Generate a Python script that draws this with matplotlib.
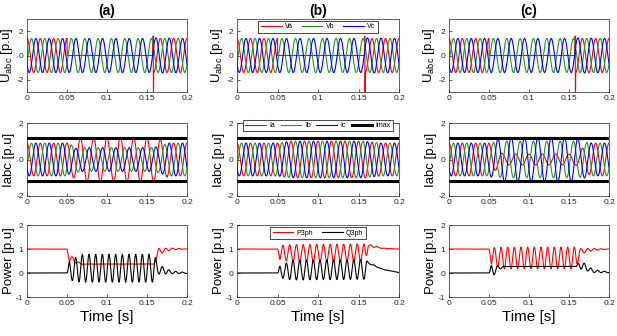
import numpy as np
import matplotlib.pyplot as plt

plt.rcParams['font.family'] = ['Liberation Sans', 'DejaVu Sans']
plt.rcParams['axes.unicode_minus'] = False
plt.rcParams['mathtext.fontset'] = 'custom'
plt.rcParams['mathtext.rm'] = 'Liberation Sans'

# time base, grid frequency read from the cycle count (about 12 cycles in 0.2 s)
t = np.arange(0, 0.2, 2e-5)
f0 = 60.0

# ---- voltages (same in the three cases) ----
v_env_t = [0.0, 0.05, 0.0501, 0.158, 0.1581, 0.2]
va_amp = [1.4, 1.4, 0.0, 0.0, 1.4, 1.4]
vb_amp = [1.4, 1.4, 1.4, 1.4, 1.4, 1.4]
vc_amp = [1.4, 1.4, 1.4, 1.4, 1.45, 1.4]
spike_t = [0.1574, 0.1577, 0.1580, 0.1583]
spike_v = [0.0, 1.6, -3.6, 0.0]

# ---- currents: envelope break points and peak values per case ----
i_env_t = [0.0, 0.05, 0.058, 0.068, 0.158, 0.166, 0.178, 0.2]
ia_amp = {
    "a": [0.9, 0.9, 1.0, 1.22, 1.22, 1.1, 0.9, 0.9],
    "b": [0.9, 0.9, 0.95, 1.0, 1.0, 0.95, 0.9, 0.9],
    "c": [0.9, 0.9, 0.6, 0.3, 0.3, 0.6, 0.9, 0.9],
}
ib_amp = {
    "a": [0.9, 0.9, 0.75, 0.65, 0.65, 0.75, 0.9, 0.9],
    "b": [0.9, 0.9, 0.95, 1.0, 1.0, 0.95, 0.9, 0.9],
    "c": [0.9, 0.9, 0.95, 1.0, 1.0, 0.95, 0.9, 0.9],
}
ic_amp = {
    "a": [0.9, 0.9, 0.6, 0.65, 0.65, 0.75, 0.9, 0.9],
    "b": [0.9, 0.9, 0.95, 1.0, 1.0, 0.95, 0.9, 0.9],
    "c": [0.9, 0.9, 1.05, 1.22, 1.22, 1.05, 0.9, 0.9],
}
i_max = 1.2

# ---- powers: mean level and 2f ripple amplitude at break points ----
p_env_t = {
    "a": [0.0, 0.05, 0.053, 0.068, 0.159, 0.164, 0.18, 0.2],
    "b": [0.0, 0.05, 0.053, 0.068, 0.159, 0.162, 0.18, 0.2],
    "c": [0.0, 0.05, 0.053, 0.068, 0.159, 0.164, 0.18, 0.2],
}
p_mid = {
    "a": [1.0, 1.0, 0.62, 0.37, 0.37, 0.9, 1.0, 1.0],
    "b": [1.0, 1.0, 0.85, 0.82, 0.85, 1.15, 1.03, 1.0],
    "c": [1.0, 1.0, 0.7, 0.63, 0.63, 0.9, 0.98, 1.0],
}
p_amp = {
    "a": [0.0, 0.0, 0.15, 0.0, 0.0, 0.12, 0.04, 0.0],
    "b": [0.0, 0.0, 0.3, 0.36, 0.36, 0.05, 0.01, 0.0],
    "c": [0.0, 0.0, 0.35, 0.45, 0.45, 0.12, 0.04, 0.0],
}
q_mid = {
    "a": [0.0, 0.0, 0.1, 0.2, 0.2, 0.15, 0.03, 0.0],
    "b": [0.0, 0.0, 0.05, 0.12, 0.15, 0.42, 0.15, 0.02],
    "c": [0.0, 0.0, 0.08, 0.27, 0.27, 0.35, 0.08, 0.03],
}
q_amp = {
    "a": [0.0, 0.0, 0.4, 0.58, 0.58, 0.2, 0.06, 0.02],
    "b": [0.0, 0.0, 0.25, 0.41, 0.41, 0.03, 0.0, 0.0],
    "c": [0.0, 0.0, 0.26, 0.0, 0.0, 0.18, 0.06, 0.02],
}

cases = ["a", "b", "c"]
RED, GREEN, BLUE = "#ff0000", "#1f9a1f", "#0000ff"


def wave(env_t, amp, freq, phase, mid=None):
    w = np.interp(t, env_t, amp) * np.cos(2 * np.pi * freq * t + phase)
    if mid is not None:
        w = w + np.interp(t, env_t, mid)
    return w


def style(ax, ylim, yticks, width_px):
    ax.set_xlim(0, 0.2)
    ax.set_ylim(*ylim)
    ax.set_yticks(yticks)
    ax.set_xticks([0, 0.05, 0.1, 0.15, 0.2])
    ax.set_xticklabels(["0", "0.05", "0.1", "0.15", "0.2"])
    ax.tick_params(direction="in", labelsize=6, length=2, width=0.5,
                   colors="#262626", pad=2.5)
    for s in ax.spines.values():
        s.set_linewidth(0.5)
        s.set_color("#262626")
    ax.yaxis.set_label_coords(-12 / width_px, 0.5)


def add_legend(ax, ncol, pad, colsp):
    leg = ax.legend(loc="upper center", ncol=ncol, fontsize=5, frameon=True,
                    fancybox=False, edgecolor="black", framealpha=1,
                    borderaxespad=pad, handlelength=3.0, columnspacing=colsp,
                    borderpad=0.35, handletextpad=0.5)
    leg.get_frame().set_linewidth(0.5)


fig = plt.figure(figsize=(6.17, 3.36), dpi=100)
lefts_px = [27, 237, 449]
widths_px = [160, 162, 160]
bottoms = [1 - 92 / 336, 1 - 196 / 336, 1 - 297 / 336]
heights = [73 / 336, 73 / 336, 72 / 336]
lw = 0.8
sh = 2 * np.pi / 3

for j, c in enumerate(cases):
    L, W = lefts_px[j] / 617, widths_px[j] / 617

    # voltages
    ax = fig.add_axes([L, bottoms[0], W, heights[0]])
    va = wave(v_env_t, va_amp, f0, 0.0) + np.interp(t, spike_t, spike_v, left=0, right=0)
    ax.plot(t, va, color=RED, lw=lw, label="Va")
    ax.plot(t, wave(v_env_t, vb_amp, f0, -sh), color=GREEN, lw=lw, label="Vb")
    ax.plot(t, wave(v_env_t, vc_amp, f0, sh), color=BLUE, lw=lw, label="Vc")
    style(ax, (-3, 3), [-2, 0, 2], widths_px[j])
    ax.set_ylabel("U$_{\\mathrm{abc}}$ [p.u]", fontsize=9.5)
    ax.set_title("(" + c + ")", fontsize=10, fontweight="bold", pad=3)
    if c == "b":
        add_legend(ax, 3, 0.25, 1.2)

    # currents
    ax = fig.add_axes([L, bottoms[1], W, heights[1]])
    ax.plot(t, wave(i_env_t, ia_amp[c], f0, 0.0), color=RED, lw=lw, label="Ia")
    ax.plot(t, wave(i_env_t, ib_amp[c], f0, -sh), color=GREEN, lw=lw, label="Ib")
    ax.plot(t, wave(i_env_t, ic_amp[c], f0, sh), color=BLUE, lw=lw, label="Ic")
    ax.plot([0, 0.2], [i_max, i_max], color="black", lw=2.2, label="Imax")
    ax.plot([0, 0.2], [-i_max, -i_max], color="black", lw=2.2)
    style(ax, (-2, 2), [-2, 0, 2], widths_px[j])
    ax.set_ylabel("Iabc [p.u]", fontsize=9.5)
    if c == "b":
        add_legend(ax, 4, -0.5, 0.8)

    # powers
    ax = fig.add_axes([L, bottoms[2], W, heights[2]])
    tp = p_env_t[c]
    p = wave(tp, p_amp[c], 2 * f0, -2 * np.pi * 2 * f0 * 0.0525 + np.pi, p_mid[c])
    q = wave(tp, q_amp[c], 2 * f0, -2 * np.pi * 2 * f0 * 0.0525, q_mid[c])
    ax.plot(t, p, color=RED, lw=lw, label="P3ph")
    ax.plot(t, q, color="black", lw=lw, label="Q3ph")
    style(ax, (-1, 2), [-1, 0, 1, 2], widths_px[j])
    ax.set_ylabel("Power [p.u]", fontsize=9.5)
    ax.set_xlabel("Time [s]", fontsize=11, labelpad=2)
    if c == "b":
        add_legend(ax, 2, 0.3, 1.2)

fig.savefig("out.png", dpi=100)
